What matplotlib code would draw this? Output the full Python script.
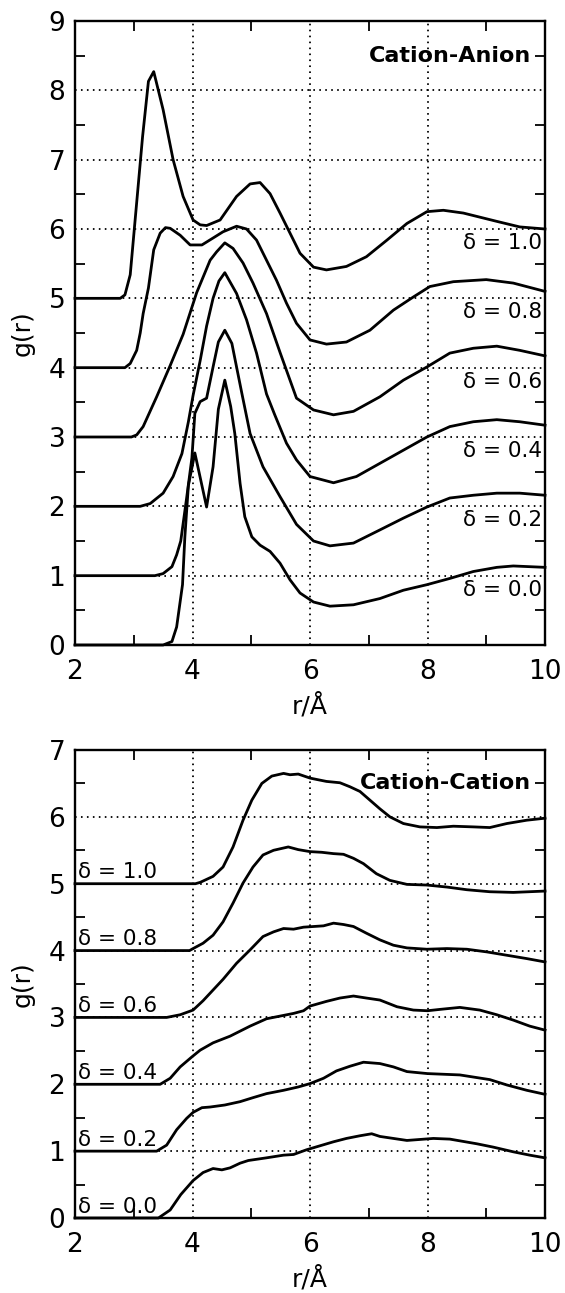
import matplotlib
matplotlib.use("Agg")
import matplotlib.pyplot as plt

plt.rcParams['font.family'] = ['DejaVu Sans']

# ---------------- Cation-Anion (curves already shifted by delta offset) -------------
deltas = ["1.0", "0.8", "0.6", "0.4", "0.2", "0.0"]
offsets = [5, 4, 3, 2, 1, 0]

ca_r_10 = [2.0, 2.77, 2.85, 2.94, 3.15, 3.25, 3.34, 3.50, 3.67, 3.84, 4.01, 4.13, 4.24, 4.47, 4.75,
           4.98, 5.15, 5.32, 5.49, 5.66, 5.83, 6.06, 6.28, 6.62, 6.96, 7.31, 7.65, 7.99, 8.27, 8.61,
           9.18, 9.57, 10.0]
ca_g_10 = [5.0, 5.0, 5.05, 5.34, 7.33, 8.13, 8.27, 7.72, 7.0, 6.47, 6.13, 6.06, 6.05, 6.13, 6.47,
           6.65, 6.67, 6.51, 6.23, 5.94, 5.65, 5.45, 5.41, 5.46, 5.60, 5.84, 6.08, 6.25, 6.27, 6.23,
           6.11, 6.03, 6.0]

ca_r_08 = [2.0, 2.85, 2.94, 3.05, 3.11, 3.16, 3.25, 3.34, 3.45, 3.54, 3.62, 3.79, 3.96, 4.16, 4.35,
           4.52, 4.75, 4.92, 5.09, 5.26, 5.43, 5.60, 5.77, 6.0, 6.28, 6.62, 7.02, 7.42, 7.76, 8.04,
           8.44, 9.0, 9.46, 10.0]
ca_g_08 = [4.0, 4.0, 4.06, 4.25, 4.50, 4.78, 5.15, 5.70, 5.94, 6.02, 6.01, 5.91, 5.77, 5.77, 5.87,
           5.96, 6.04, 6.0, 5.84, 5.55, 5.26, 4.93, 4.64, 4.40, 4.34, 4.37, 4.54, 4.83, 5.02, 5.17,
           5.24, 5.27, 5.22, 5.10]

ca_r_06 = [2.0, 2.96, 3.05, 3.16, 3.39, 3.62, 3.84, 4.07, 4.30, 4.41, 4.55, 4.69, 4.86, 5.03, 5.26,
           5.49, 5.77, 6.06, 6.40, 6.74, 7.19, 7.59, 7.99, 8.38, 8.78, 9.18, 9.57, 10.0]
ca_g_06 = [3.0, 3.0, 3.03, 3.15, 3.58, 4.03, 4.48, 5.08, 5.55, 5.67, 5.80, 5.72, 5.51, 5.22, 4.78,
           4.22, 3.56, 3.39, 3.32, 3.37, 3.58, 3.82, 4.01, 4.21, 4.28, 4.31, 4.25, 4.17]

ca_r_04 = [2.0, 3.11, 3.28, 3.50, 3.67, 3.82, 3.93, 4.01, 4.13, 4.24, 4.35, 4.45, 4.55, 4.75, 4.92,
           5.09, 5.26, 5.40, 5.60, 5.77, 6.0, 6.40, 6.79, 7.19, 7.59, 7.99, 8.38, 8.78, 9.18, 9.57,
           10.0]
ca_g_04 = [2.0, 2.0, 2.04, 2.19, 2.43, 2.76, 3.22, 3.60, 4.10, 4.60, 5.00, 5.25, 5.37, 5.07, 4.69,
           4.21, 3.62, 3.32, 2.91, 2.67, 2.43, 2.34, 2.43, 2.62, 2.81, 3.0, 3.15, 3.22, 3.25, 3.22,
           3.17]

ca_r_02 = [2.0, 3.36, 3.50, 3.65, 3.73, 3.80, 3.90, 3.99, 4.04, 4.13, 4.24, 4.35, 4.44, 4.55, 4.67,
           4.75, 4.84, 4.98, 5.20, 5.49, 5.77, 6.06, 6.34, 6.74, 7.19, 7.59, 7.99, 8.38, 8.78, 9.18,
           9.57, 10.0]
ca_g_02 = [1.0, 1.0, 1.03, 1.13, 1.30, 1.50, 2.12, 2.70, 3.34, 3.51, 3.56, 4.01, 4.37, 4.54, 4.35,
           4.01, 3.63, 3.05, 2.57, 2.14, 1.74, 1.50, 1.43, 1.47, 1.66, 1.83, 1.99, 2.12, 2.16, 2.19,
           2.19, 2.16]

ca_r_00 = [2.0, 3.50, 3.65, 3.73, 3.83, 3.87, 3.93, 4.04, 4.24, 4.35, 4.44, 4.55, 4.65, 4.72, 4.81,
           4.89, 5.01, 5.15, 5.32, 5.49, 5.66, 5.83, 6.06, 6.34, 6.74, 7.19, 7.59, 7.99, 8.38, 8.78,
           9.18, 9.46, 10.0]
ca_g_00 = [0.0, 0.0, 0.05, 0.26, 0.87, 1.56, 2.30, 2.77, 1.99, 2.57, 3.40, 3.82, 3.44, 3.05, 2.33,
           1.85, 1.56, 1.44, 1.35, 1.18, 0.94, 0.75, 0.62, 0.56, 0.58, 0.67, 0.79, 0.87, 0.96, 1.06,
           1.12, 1.14, 1.12]

# ---------------- Cation-Cation (curves already shifted by delta offset) ------------
cc_r_10 = [2.0, 4.05, 4.13, 4.35, 4.52, 4.69, 4.86, 5.01, 5.18, 5.35, 5.55, 5.66, 5.80, 6.0, 6.11,
           6.28, 6.51, 6.68, 6.85, 7.02, 7.19, 7.36, 7.59, 7.87, 8.16, 8.44, 8.78, 9.06, 9.35, 9.69,
           10.0]
cc_g_10 = [5.0, 5.0, 5.02, 5.11, 5.25, 5.55, 5.95, 6.25, 6.50, 6.61, 6.65, 6.63, 6.64, 6.58, 6.56,
           6.53, 6.51, 6.45, 6.38, 6.25, 6.12, 6.0, 5.90, 5.85, 5.84, 5.86, 5.85, 5.84, 5.90, 5.95,
           5.98]

cc_r_08 = [2.0, 3.95, 4.01, 4.18, 4.35, 4.52, 4.69, 4.86, 5.03, 5.20, 5.38, 5.63, 5.80, 6.0, 6.20,
           6.40, 6.57, 6.74, 6.91, 7.13, 7.36, 7.65, 7.99, 8.33, 8.67, 9.06, 9.46, 10.0]
cc_g_08 = [4.0, 4.0, 4.03, 4.11, 4.23, 4.43, 4.71, 5.01, 5.25, 5.43, 5.50, 5.55, 5.51, 5.48, 5.47,
           5.45, 5.44, 5.38, 5.30, 5.15, 5.05, 4.99, 4.98, 4.95, 4.91, 4.88, 4.87, 4.89]

cc_r_06 = [2.0, 3.56, 3.79, 4.01, 4.18, 4.35, 4.52, 4.75, 4.98, 5.20, 5.38, 5.55, 5.72, 5.89, 6.23,
           6.40, 6.57, 6.74, 6.96, 7.19, 7.42, 7.65, 7.99, 8.33, 8.67, 9.01, 9.35, 9.69, 10.0]
cc_g_06 = [3.0, 3.0, 3.04, 3.11, 3.25, 3.41, 3.57, 3.81, 4.01, 4.21, 4.28, 4.33, 4.32, 4.35, 4.37,
           4.41, 4.39, 4.36, 4.26, 4.16, 4.08, 4.04, 4.02, 4.03, 4.02, 3.98, 3.93, 3.88, 3.83]

cc_r_04 = [2.0, 3.45, 3.62, 3.79, 3.99, 4.13, 4.35, 4.64, 4.98, 5.26, 5.49, 5.72, 5.89, 6.0, 6.28,
           6.51, 6.74, 6.96, 7.19, 7.48, 7.76, 8.0, 8.21, 8.55, 8.89, 9.18, 9.46, 9.74, 10.0]
cc_g_04 = [2.0, 2.0, 2.09, 2.26, 2.41, 2.51, 2.62, 2.72, 2.87, 2.98, 3.02, 3.06, 3.10, 3.17, 3.24,
           3.29, 3.32, 3.29, 3.26, 3.16, 3.11, 3.10, 3.12, 3.15, 3.11, 3.04, 2.96, 2.87, 2.81]

cc_r_02 = [2.0, 3.39, 3.56, 3.73, 3.90, 4.01, 4.16, 4.30, 4.55, 4.81, 5.03, 5.26, 5.55, 5.80, 6.0,
           6.23, 6.45, 6.68, 6.91, 7.19, 7.42, 7.65, 8.0, 8.55, 9.06, 9.35, 9.69, 10.0]
cc_g_02 = [1.0, 1.0, 1.09, 1.32, 1.49, 1.58, 1.65, 1.66, 1.69, 1.74, 1.80, 1.86, 1.91, 1.96, 2.01,
           2.09, 2.20, 2.27, 2.33, 2.31, 2.26, 2.19, 2.16, 2.14, 2.07, 1.99, 1.91, 1.85]

cc_r_00 = [2.0, 3.42, 3.62, 3.80, 4.01, 4.18, 4.35, 4.50, 4.64, 4.81, 4.95, 5.26, 5.55, 5.72, 5.94,
           6.17, 6.40, 6.62, 6.85, 7.05, 7.19, 7.65, 8.10, 8.38, 8.84, 9.12, 9.46, 9.74, 10.0]
cc_g_00 = [0.0, 0.0, 0.12, 0.35, 0.56, 0.68, 0.74, 0.72, 0.75, 0.82, 0.86, 0.90, 0.94, 0.95, 1.02,
           1.08, 1.14, 1.19, 1.23, 1.26, 1.22, 1.16, 1.19, 1.18, 1.11, 1.06, 0.99, 0.94, 0.90]

ca_curves = [(ca_r_10, ca_g_10), (ca_r_08, ca_g_08), (ca_r_06, ca_g_06),
             (ca_r_04, ca_g_04), (ca_r_02, ca_g_02), (ca_r_00, ca_g_00)]
cc_curves = [(cc_r_10, cc_g_10), (cc_r_08, cc_g_08), (cc_r_06, cc_g_06),
             (cc_r_04, cc_g_04), (cc_r_02, cc_g_02), (cc_r_00, cc_g_00)]

x_major = [2, 4, 6, 8, 10]
x_minor = [3, 5, 7, 9]

W, H = 565, 1293
fig = plt.figure(figsize=(W / 100, H / 100), dpi=100)


def px_axes(left, top, right, bottom):
    return fig.add_axes([left / W, 1 - bottom / H, (right - left) / W, (bottom - top) / H])


ax1 = px_axes(75, 21, 545, 645)
ax2 = px_axes(75, 750, 545, 1218)


def style(ax, ymax):
    ax.set_xlim(2, 10)
    ax.set_ylim(0, ymax)
    ax.set_xticks(x_major)
    ax.set_xticks(x_minor, minor=True)
    ax.set_yticks(list(range(0, ymax + 1)))
    ax.set_yticks([v + 0.5 for v in range(0, ymax)], minor=True)
    ax.tick_params(which='major', length=0, labelsize=19)
    ax.tick_params(axis='x', which='major', pad=10)
    ax.tick_params(axis='y', which='major', pad=7)
    ax.tick_params(which='minor', direction='in', length=7, width=1.3,
                   top=True, right=True, bottom=True, left=True)
    ax.grid(True, which='major', color='black', linestyle=(0, (0.9, 2.4)), linewidth=1.3)
    ax.set_axisbelow(True)
    for s in ax.spines.values():
        s.set_linewidth(1.7)
    ax.set_xlabel('r/Å', fontsize=18, labelpad=6)
    ax.set_ylabel('g(r)', fontsize=18, labelpad=10)


style(ax1, 9)
style(ax2, 7)

for (r, g) in ca_curves:
    ax1.plot(r, g, color='black', linewidth=2.0, clip_on=False, zorder=3)
for (r, g) in cc_curves:
    ax2.plot(r, g, color='black', linewidth=2.0, clip_on=False, zorder=3)

for d, off in zip(deltas, offsets):
    ax1.text(9.95, off + 0.8, 'δ = ' + d, ha='right', va='center', fontsize=15.5)
    ax2.text(2.05, off + 0.17, 'δ = ' + d, ha='left', va='center', fontsize=15.5)

ax1.text(9.76, 8.5, 'Cation-Anion', ha='right', va='center', fontsize=16, fontweight='bold')
ax2.text(9.76, 6.5, 'Cation-Cation', ha='right', va='center', fontsize=16, fontweight='bold')

fig.savefig('out.png', dpi=100)
